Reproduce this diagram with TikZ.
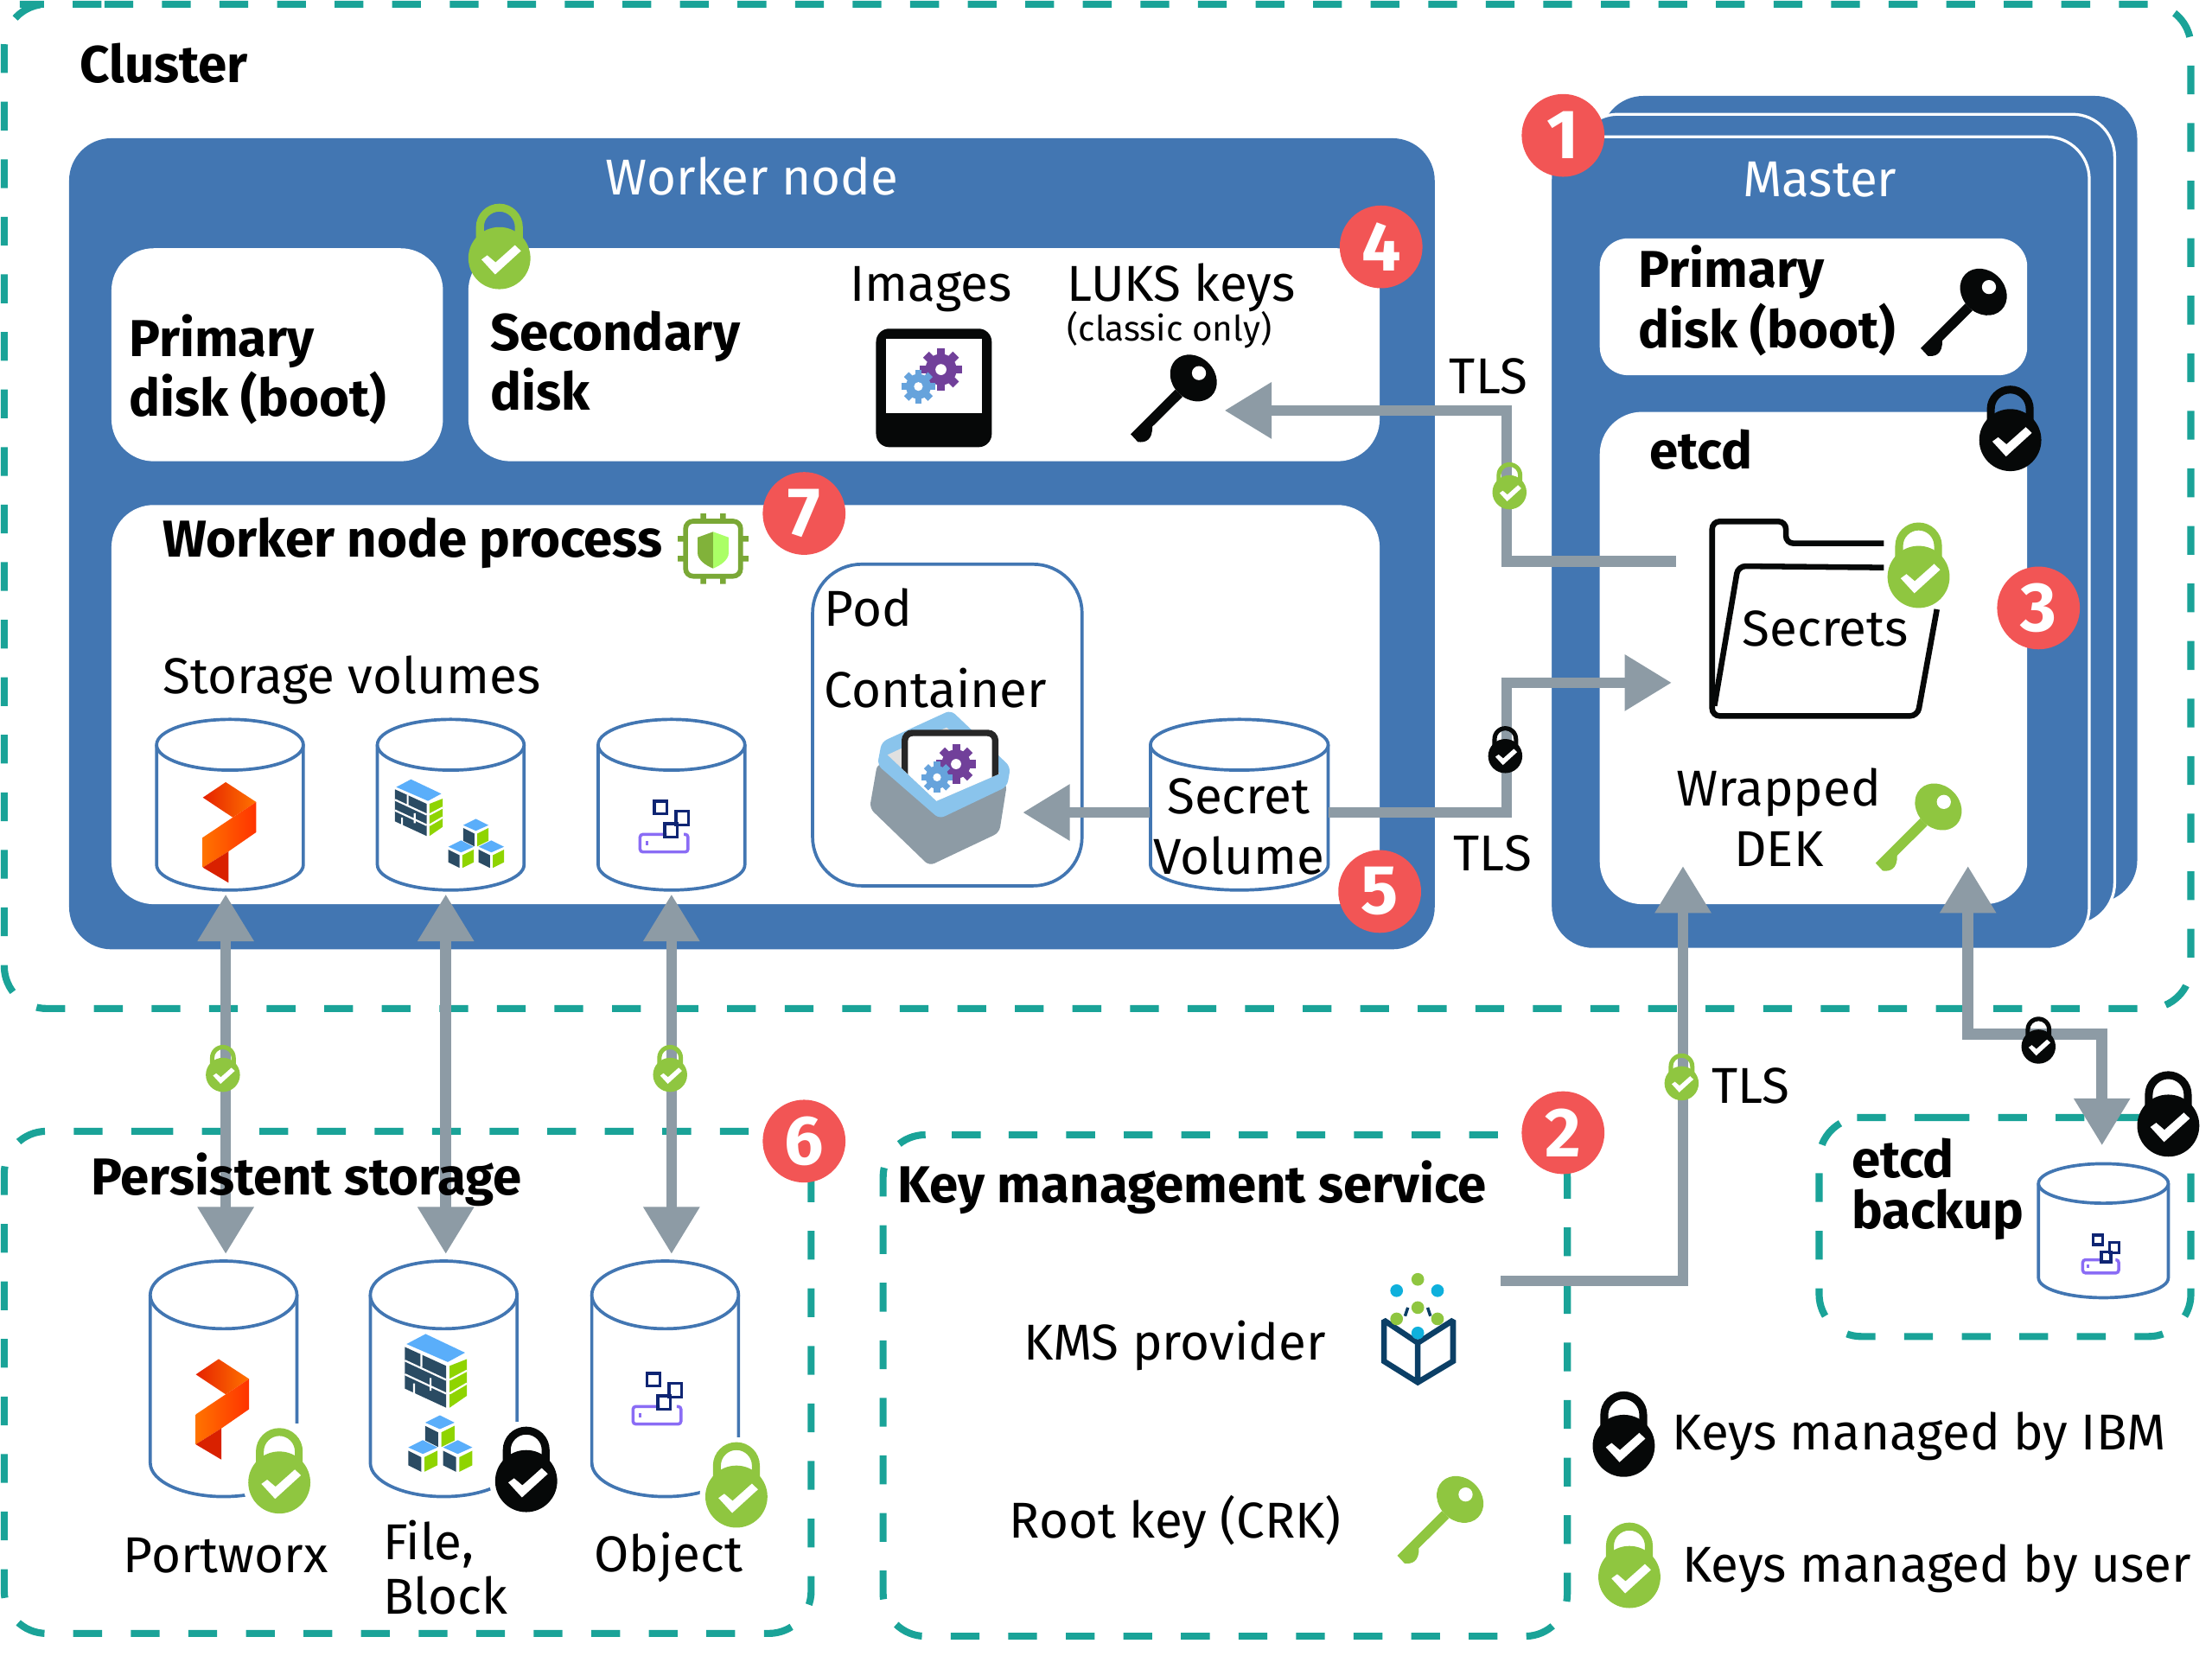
\documentclass[tikz,border=0pt]{standalone}
\usepackage{fontspec}
\setmainfont{Fira Sans}
\usetikzlibrary{arrows.meta}

\definecolor{panelblue}{HTML}{4276B2}
\definecolor{dashteal}{HTML}{1AA398}
\definecolor{flowgrey}{HTML}{8D9BA5}
\definecolor{badgered}{HTML}{F25555}
\definecolor{lockgreen}{HTML}{8FC640}
\definecolor{lockblack}{HTML}{060808}
\definecolor{gearpurple}{HTML}{71409A}
\definecolor{gearblue}{HTML}{66A3DC}
\definecolor{rimblue}{HTML}{8AC4EC}
\definecolor{brickdark}{HTML}{2A4B63}
\definecolor{bricktop}{HTML}{5AAEFA}
\definecolor{brickgreen}{HTML}{8FD400}
\definecolor{kmsnavy}{HTML}{0B3F66}
\definecolor{kmscyan}{HTML}{0FB0DC}
\definecolor{objnavy}{HTML}{0F2573}
\definecolor{traypurple}{HTML}{8A6CF5}

\newcommand{\diskcan}[6]{% name, centre x, centre y, half width, half height, end radius
    \node (#1) [diskvol,minimum width=#4*1.5pt,minimum height=#5*1.5pt] at (#2,#3) {};
    \draw [diskline] ({#2-#4},{#3-#5+#6}) -- ({#2-#4},{#3+#5-#6}) arc[x radius=#4,y radius=#6,start angle=180,end angle=0] -- ({#2+#4},{#3-#5+#6});
    \draw [diskline] (#2,{#3-#5+#6}) ellipse[x radius=#4,y radius=#6];
}

\tikzset{
    every picture/.style={line width=0.75pt},
    upright/.style={yscale=-1},
    bluepanel/.style={fill=panelblue,rounded corners=22.5pt},
    whitepanel/.style={fill=white,rounded corners=22.5pt},
    tealbox/.style={draw=dashteal,line width=3.75pt,dash pattern=on 15.3pt off 15.3pt,rounded corners=22.5pt},
    diskvol/.style={rectangle,inner sep=0pt},
    diskline/.style={draw=panelblue,fill=white,line width=1.7pt},
    flowline/.style={draw=flowgrey,line width=5.8pt},
    flowarrow/.style={flowline,-{Triangle[length=25pt,width=28.5pt]}},
    flowboth/.style={flowline,{Triangle[length=25pt,width=28.5pt]}-{Triangle[length=25pt,width=28.5pt]}},
    stepbadge/.style={circle,fill=badgered,text=white,minimum size=44pt,inner sep=0pt,font=\fontsize{37}{37}\bfseries\selectfont},
    bodytext/.style={inner sep=0.75pt,align=left,font=\fontsize{26.8}{32}\selectfont},
    boldtext/.style={inner sep=0.75pt,align=left,font=\fontsize{27.6}{32}\bfseries\selectfont},
    whitetext/.style={bodytext,text=white},
    pics/lockicon/.style={code={
        \fill[#1,even odd rule] (-16.6,-10) -- (-16.6,-22) arc[start angle=180,end angle=360,radius=16.6] -- (16.6,-10) -- cycle
            (-11,-10) -- (-11,-22) arc[start angle=180,end angle=360,radius=11] -- (11,-10) -- cycle;
        \fill[#1] (0,0) circle (22);
        \fill[white] (-12.7,1) -- (-3,11.6) -- (15.3,-5.1) -- (11,-9.2) -- (-2.7,3) -- (-8.6,-2) -- cycle;
    }},
    pics/lockhalo/.style={code={
        \fill[white] (0,0) circle (26);
        \fill[white] (-20,-42) rectangle (20,0);
    }},
    pics/keyicon/.style={code={
        \fill[#1,rotate=45] (0,0) ellipse[x radius=18,y radius=15];
        \fill[#1] (-12.9,8.2) -- (-44.5,39.8) -- (-39.4,45.3) .. controls (-34,46) and (-29,44) .. (-29.2,34.5) -- (-7.8,13.3) -- cycle;
        \fill[white] (3.9,-3.5) circle (5);
    }},
    pics/gearicon/.style={code={
        \fill[#1] (0,0) circle (0.74);
        \foreach \a in {0,45,...,315}
            \fill[#1,rotate=\a] (-0.2,0.6) rectangle (0.2,1);
        \fill[white] (0,0) circle (0.26);
    }},
    pics/portworxicon/.style={code={
        \shade[left color=orange!30!red!90!black,right color=orange!90!red] (0,0) -- (-16.2,10.9) -- (5,25) -- (21.6,14.1) -- cycle;
        \shade[left color=orange!90!red,right color=orange!40!red] (5,25) -- (-16.2,39.2) -- (-16.2,60.5) -- (2,49.1) -- (21.6,35.5) -- (21.6,14.1) -- cycle;
        \fill[red!70!orange!85!black] (-16.2,60.5) -- (2,71.3) -- (2,49.1) -- cycle;
    }},
    pics/brickicon/.style={code={
        \fill[bricktop] (11.3,0) -- (32.8,10.2) -- (23.4,15.3) -- (0.9,5.5) -- cycle;
        \fill[brickdark] (0,7.1) -- (22.5,17.4) -- (22.5,40.2) -- (0,29.8) -- cycle;
        \fill[brickgreen] (24.4,17.4) -- (33.8,13.7) -- (33.8,33.7) -- (24.4,40.2) -- cycle;
        \draw[white,line width=1pt] (0,14.5) -- (22.5,25) (0,22) -- (22.5,32.5) (9,11) -- (9,18) (14,24) -- (14,31) (5,27) -- (5,34)
            (24.4,25) -- (33.8,20) (24.4,32.5) -- (33.8,27);
    }},
    pics/cubesicon/.style={code={
        \foreach \cx/\cy in {0/0,-10.5/15.3,11/15.3} {
            \fill[bricktop,shift={(\cx,\cy)}] (0,-7.5) -- (9,-3) -- (0,1) -- (-9,-3) -- cycle;
            \fill[brickdark,shift={(\cx,\cy)}] (-9,-1) -- (-1,3) -- (-1,12) -- (-9,8) -- cycle;
            \fill[brickgreen,shift={(\cx,\cy)}] (1,3) -- (9,-1) -- (9,8) -- (1,12) -- cycle;
        }
    }},
    pics/objecticon/.style={code={
        \draw[traypurple,line width=1.6pt,rounded corners=1.5pt] (20,24.5) -- (1,24.5) -- (1,37) -- (35,37) -- (35,24.5) -- (32,24.5);
        \fill[traypurple] (5,29) rectangle (7,32);
        \draw[objnavy,line width=1.6pt] (11,1) rectangle (20,10) (26.5,8) rectangle (35.5,18) (18.5,17) rectangle (27.5,26.5);
    }},
}

\begin{document}
\begin{tikzpicture}[x=0.75pt,y=0.75pt,yscale=-1,xscale=1]
        \useasboundingbox (0,0) rectangle (1568,1174);

        %Shape: Rectangle, cluster and the other dashed boxes
        \draw [tealbox] (44,3) -- (1553,3) -- (1553,715) -- (3,715) -- (3,3) -- cycle;
        \draw [tealbox] (72.3,802) -- (575,802) -- (575,1158) -- (3,1158) -- (3,802) -- cycle;
        \draw [tealbox] (685,804.5) -- (1111,804.5) -- (1111,1160) -- (626,1160) -- (626,804.5) -- cycle;
        \draw [tealbox] (1345.6,792.3) -- (1553,792.3) -- (1553,947.5) -- (1289.5,947.5) -- (1289.5,792.3) -- cycle;

        %Shape: Rectangle, worker node
        \fill [bluepanel] (49,98) rectangle (1017,673);
        \fill [whitepanel] (79,176) rectangle (314,327);
        \fill [whitepanel] (332,176) rectangle (978,327);
        \fill [whitepanel] (79,358) rectangle (978,641);
        \draw [panelblue,line width=1.7pt,rounded corners=26pt] (576,400) rectangle (767,628);

        %Shape: Rectangle, master stack
        \fill [bluepanel] (1135,68) rectangle (1515,640);
        \draw [bluepanel,draw=white,line width=1.5pt] (1117,81) rectangle (1499,656);
        \draw [bluepanel,draw=white,line width=1.5pt] (1099,97) rectangle (1481,673);
        \fill [whitepanel,rounded corners=15pt] (1134,169) rectangle (1437,266);
        \fill [whitepanel] (1134,292) rectangle (1437,641);

        %Shape: Can, volumes
        \diskcan{volportworx}{163}{570.5}{52}{60.5}{18}
        \diskcan{volblock}{319.5}{570.5}{52}{60.5}{18}
        \diskcan{volobject}{476}{570.5}{52}{60.5}{18}
        \diskcan{secretvol}{878.5}{570.5}{63}{60.5}{18}
        \diskcan{storeportworx}{158.5}{977.5}{52}{83.5}{24}
        \diskcan{storeblock}{314.5}{977.5}{52}{83.5}{24}
        \diskcan{storeobject}{471.5}{977.5}{52}{83.5}{24}
        \diskcan{storebackup}{1491}{872.5}{46}{47.5}{14}

        %Shape: Folder
        \begin{scope}[shift={(1201,361.5)},scale=0.20425]
            \draw [lockblack,line width=3pt,rounded corners=4pt] (658,116) -- (318,116) -- (318,40) -- (62,40) -- (62,715) -- (775,715) -- (842,345);
            \draw [lockblack,line width=3pt,rounded corners=4pt] (70,680) -- (152,195) -- (658,200);
        \end{scope}

        %Shape: Images
        \draw [fill=lockblack,rounded corners=7pt,draw=none] (621,233) rectangle (703,317);
        \fill [white] (628,240) rectangle (696,293);
        \pic [upright,scale=15] at (667,262) {gearicon=gearpurple};
        \pic [upright,scale=12] at (651,274) {gearicon=gearblue};

        %Shape: Container
        \begin{scope}[shift={(600.5,490.2)},scale=0.20425]
            \fill [flowgrey,rounded corners=3pt] (105,250) -- (78,405) -- (285,605) -- (528,490) -- (555,320) -- cycle;
            \fill [rimblue,rounded corners=3pt] (120,175) -- (360,65) -- (567,262) -- (555,330) -- (320,442) -- (105,255) -- cycle;
            \fill [black!12] (140,220) -- (345,125) -- (530,285) -- (310,380) -- cycle;
            \begin{scope}
                \clip (140,220) -- (188,100) -- (530,100) -- (530,285) -- (310,380) -- cycle;
                \draw [fill=white,draw=black!85,line width=3.4pt,rounded corners=4pt] (200,144) rectangle (514,400);
            \end{scope}
            \pic [upright,scale=13.9] at (378,252) {gearicon=gearpurple};
            \pic [upright,scale=11] at (312,298) {gearicon=gearblue};
        \end{scope}

        %Shape: Chip with shield
        \begin{scope}[shift={(505.5,389)}]
            \foreach \a in {0,90,180,270}
                \fill [lockgreen!85!black,rotate=\a] (-9,-25) rectangle (-5,-19) (5,-25) rectangle (9,-19);
            \draw [draw=lockgreen!85!black,fill=white,line width=2.6pt,rounded corners=4pt] (-19.5,-19.5) rectangle (19.5,19.5);
            \fill [green!40!lime!60!white] (0,-12) -- (11,-8) -- (11,3) .. controls (11,8) and (5,12) .. (0,14) -- cycle;
            \fill [lockgreen!90!black] (0,-12) -- (-11,-8) -- (-11,3) .. controls (-11,8) and (-5,12) .. (0,14) -- cycle;
        \end{scope}

        %Shape: KMS cube
        \draw [kmsnavy,line width=3pt,miter limit=2] (1005,952) -- (981,936) -- (981,965) -- (1005,980) -- (1030,965) -- (1030,936) -- cycle (1005,952) -- (1005,980);
        \draw [kmsnavy,line width=1.6pt] (998,927) -- (996,933) (1012,927) -- (1014,933);
        \foreach \px/\py/\pc in {1005/907/lockgreen,990/915/kmscyan,1019/915/kmscyan,1005/927/lockgreen,990/935/lockgreen,1019/935/lockgreen,1005/945/kmscyan}
            \fill [\pc] (\px,\py) circle (4.5);

        %Straight Lines, named ends of the flows
        \coordinate (keytip) at (868,291);
        \coordinate (tlsupper) at (1068,291);
        \coordinate (tlsfolder) at (1068,398);
        \coordinate (folderout) at (1188,398);
        \coordinate (folderin) at (1185,484);
        \coordinate (tlssecret) at (1068,484);
        \coordinate (secretout) at (1068,576);
        \coordinate (containerin) at (725,576);
        \coordinate (porttopa) at (160,634);
        \coordinate (porttopb) at (316,634);
        \coordinate (porttopc) at (476,634);
        \coordinate (portlowa) at (160,889);
        \coordinate (portlowb) at (316,889);
        \coordinate (portlowc) at (476,889);
        \coordinate (kmsout) at (1064,908);
        \coordinate (kmsbend) at (1193,908);
        \coordinate (etcdin) at (1193,614);
        \coordinate (dekin) at (1395,614);
        \coordinate (backupa) at (1395,733);
        \coordinate (backupb) at (1490,733);
        \coordinate (backuptip) at (1490,812);

        \draw [flowarrow] (folderout) -- (tlsfolder) -- (tlsupper) -- (keytip);
        \draw [flowarrow] (secretvol.east |- secretout) -- (secretout) -- (tlssecret) -- (folderin);
        \draw [flowarrow] (secretvol.west |- secretout) -- (containerin);
        \draw [flowboth] (porttopa) -- (portlowa);
        \draw [flowboth] (porttopb) -- (portlowb);
        \draw [flowboth] (porttopc) -- (portlowc);
        \draw [flowarrow] (kmsout) -- (kmsbend) -- (etcdin);
        \draw [flowboth] (dekin) -- (backupa) -- (backupb) -- (backuptip);

        %Shape: Icons inside the volumes
        \pic [upright] at (160,554.5) {portworxicon};
        \pic [upright] at (155,963.5) {portworxicon};
        \pic [upright] at (280,552.5) {brickicon};
        \pic [upright] at (337.3,588) {cubesicon};
        \pic [upright,scale=1.3] at (287,945.7) {brickicon};
        \pic [upright,scale=1.15] at (311.8,1012) {cubesicon};
        \pic [upright] at (452.7,567) {objecticon};
        \pic [upright] at (447.7,972.6) {objecticon};
        \pic [upright,scale=0.75] at (1475.6,874.7) {objecticon};

        %Shape: Keys
        \pic [upright] at (846,268) {keyicon=lockblack};
        \pic [upright] at (1406,207) {keyicon=lockblack};
        \pic [upright] at (1374,572) {keyicon=lockgreen};
        \pic [upright] at (1035,1063) {keyicon=lockgreen};

        %Shape: Locks
        \pic [upright] at (198,1051) {lockhalo};
        \pic [upright] at (373,1050) {lockhalo};
        \pic [upright] at (522,1061) {lockhalo};
        \pic [upright] at (354,183) {lockicon=lockgreen};
        \pic [upright] at (1360,409) {lockicon=lockgreen};
        \pic [upright] at (198,1051) {lockicon=lockgreen};
        \pic [upright] at (522,1061) {lockicon=lockgreen};
        \pic [upright] at (1155,1118) {lockicon=lockgreen};
        \pic [upright] at (1425,312) {lockicon=lockblack};
        \pic [upright] at (373,1050) {lockicon=lockblack};
        \pic [upright] at (1537,798) {lockicon=lockblack};
        \pic [upright] at (1151,1025) {lockicon=lockblack};
        \pic [upright,scale=0.55] at (1070,349) {lockicon=lockgreen};
        \pic [upright,scale=0.55] at (158,762) {lockicon=lockgreen};
        \pic [upright,scale=0.55] at (475,762) {lockicon=lockgreen};
        \pic [upright,scale=0.55] at (1192,768) {lockicon=lockgreen};
        \pic [upright,scale=0.55] at (1067,536) {lockicon=lockblack};
        \pic [upright,scale=0.55] at (1445,742) {lockicon=lockblack};

        %Shape: Numbered badges
        \node (badgeone) [stepbadge] at (1108,96) {1};
        \node (badgetwo) [stepbadge] at (1108,803) {2};
        \node (badgethree) [stepbadge] at (1445,431) {3};
        \node (badgefour) [stepbadge] at (979,175) {4};
        \node (badgefive) [stepbadge] at (978,632) {5};
        \node (badgesix) [stepbadge] at (570,809) {6};
        \node (badgeseven) [stepbadge] at (570,364) {7};

        % Text Node
        \draw (55,45) node (clusterlabel) [anchor=west][boldtext] {Cluster};
        % Text Node
        \draw (533,125) node (workerlabel) [whitetext] {Worker node};
        % Text Node
        \draw (90,262) node (workerdisk) [anchor=west][boldtext] {Primary\\disk (boot)};
        % Text Node
        \draw (346,256) node (seconddisk) [anchor=west][boldtext] {Secondary\\disk};
        % Text Node
        \draw (660,205) node (imageslabel) [bodytext] {Images};
        % Text Node
        \draw (755,204) node (lukslabel) [anchor=west][bodytext] {LUKS keys};
        % Text Node
        \draw (755,234) node (classiclabel) [anchor=west][bodytext,font=\fontsize{18.6}{22}\selectfont] {(classic only)};
        % Text Node
        \draw (114,385) node (processlabel) [anchor=west][boldtext] {Worker node process};
        % Text Node
        \draw (114,482) node (storagelabel) [anchor=west][bodytext] {Storage volumes};
        % Text Node
        \draw (583,431) node (podlabel) [anchor=west][bodytext] {Pod};
        % Text Node
        \draw (583,488) node (containerlabel) [anchor=west][bodytext] {Container};
        % Text Node
        \draw (878,586) node (secretlabel) [bodytext,align=center] {Secret\\Volume};
        % Text Node
        \draw (1026,267) node (tlskey) [anchor=west][bodytext] {TLS};
        % Text Node
        \draw (1029,605) node (tlsvolume) [anchor=west][bodytext] {TLS};
        % Text Node
        \draw (1212,770) node (tlskms) [anchor=west][bodytext] {TLS};
        % Text Node
        \draw (1290,127) node (masterlabel) [whitetext] {Master};
        % Text Node
        \draw (1160,213) node (masterdisk) [anchor=west][boldtext] {Primary\\disk (boot)};
        % Text Node
        \draw (1168,319) node (etcdlabel) [anchor=west][boldtext] {etcd};
        % Text Node
        \draw (1294,446) node (secretslabel) [bodytext] {Secrets};
        % Text Node
        \draw (1261,579.5) node (deklabel) [bodytext,align=center] {Wrapped\\DEK};
        % Text Node
        \draw (63,836) node (persistentlabel) [anchor=west][boldtext] {Persistent storage};
        % Text Node
        \draw (160,1103) node (portworxlabel) [bodytext] {Portworx};
        % Text Node
        \draw (270,1111) node (blocklabel) [anchor=west][bodytext,font=\fontsize{26.8}{29}\selectfont] {File,\\Block};
        % Text Node
        \draw (474,1104) node (objectlabel) [bodytext] {Object};
        % Text Node
        \draw (635,842) node (kmslabel) [anchor=west][boldtext] {Key management service};
        % Text Node
        \draw (724,954) node (providerlabel) [anchor=west][bodytext] {KMS provider};
        % Text Node
        \draw (714,1079) node (rootlabel) [anchor=west][bodytext] {Root key (CRK)};
        % Text Node
        \draw (1311,843) node (backuplabel) [anchor=west][boldtext,font=\fontsize{27.6}{27}\bfseries\selectfont] {etcd\\backup};
        % Text Node
        \draw (1184,1018) node (ibmlabel) [anchor=west][bodytext] {Keys managed by IBM};
        % Text Node
        \draw (1191,1112) node (userlabel) [anchor=west][bodytext] {Keys managed by user};

\end{tikzpicture}
\end{document}
